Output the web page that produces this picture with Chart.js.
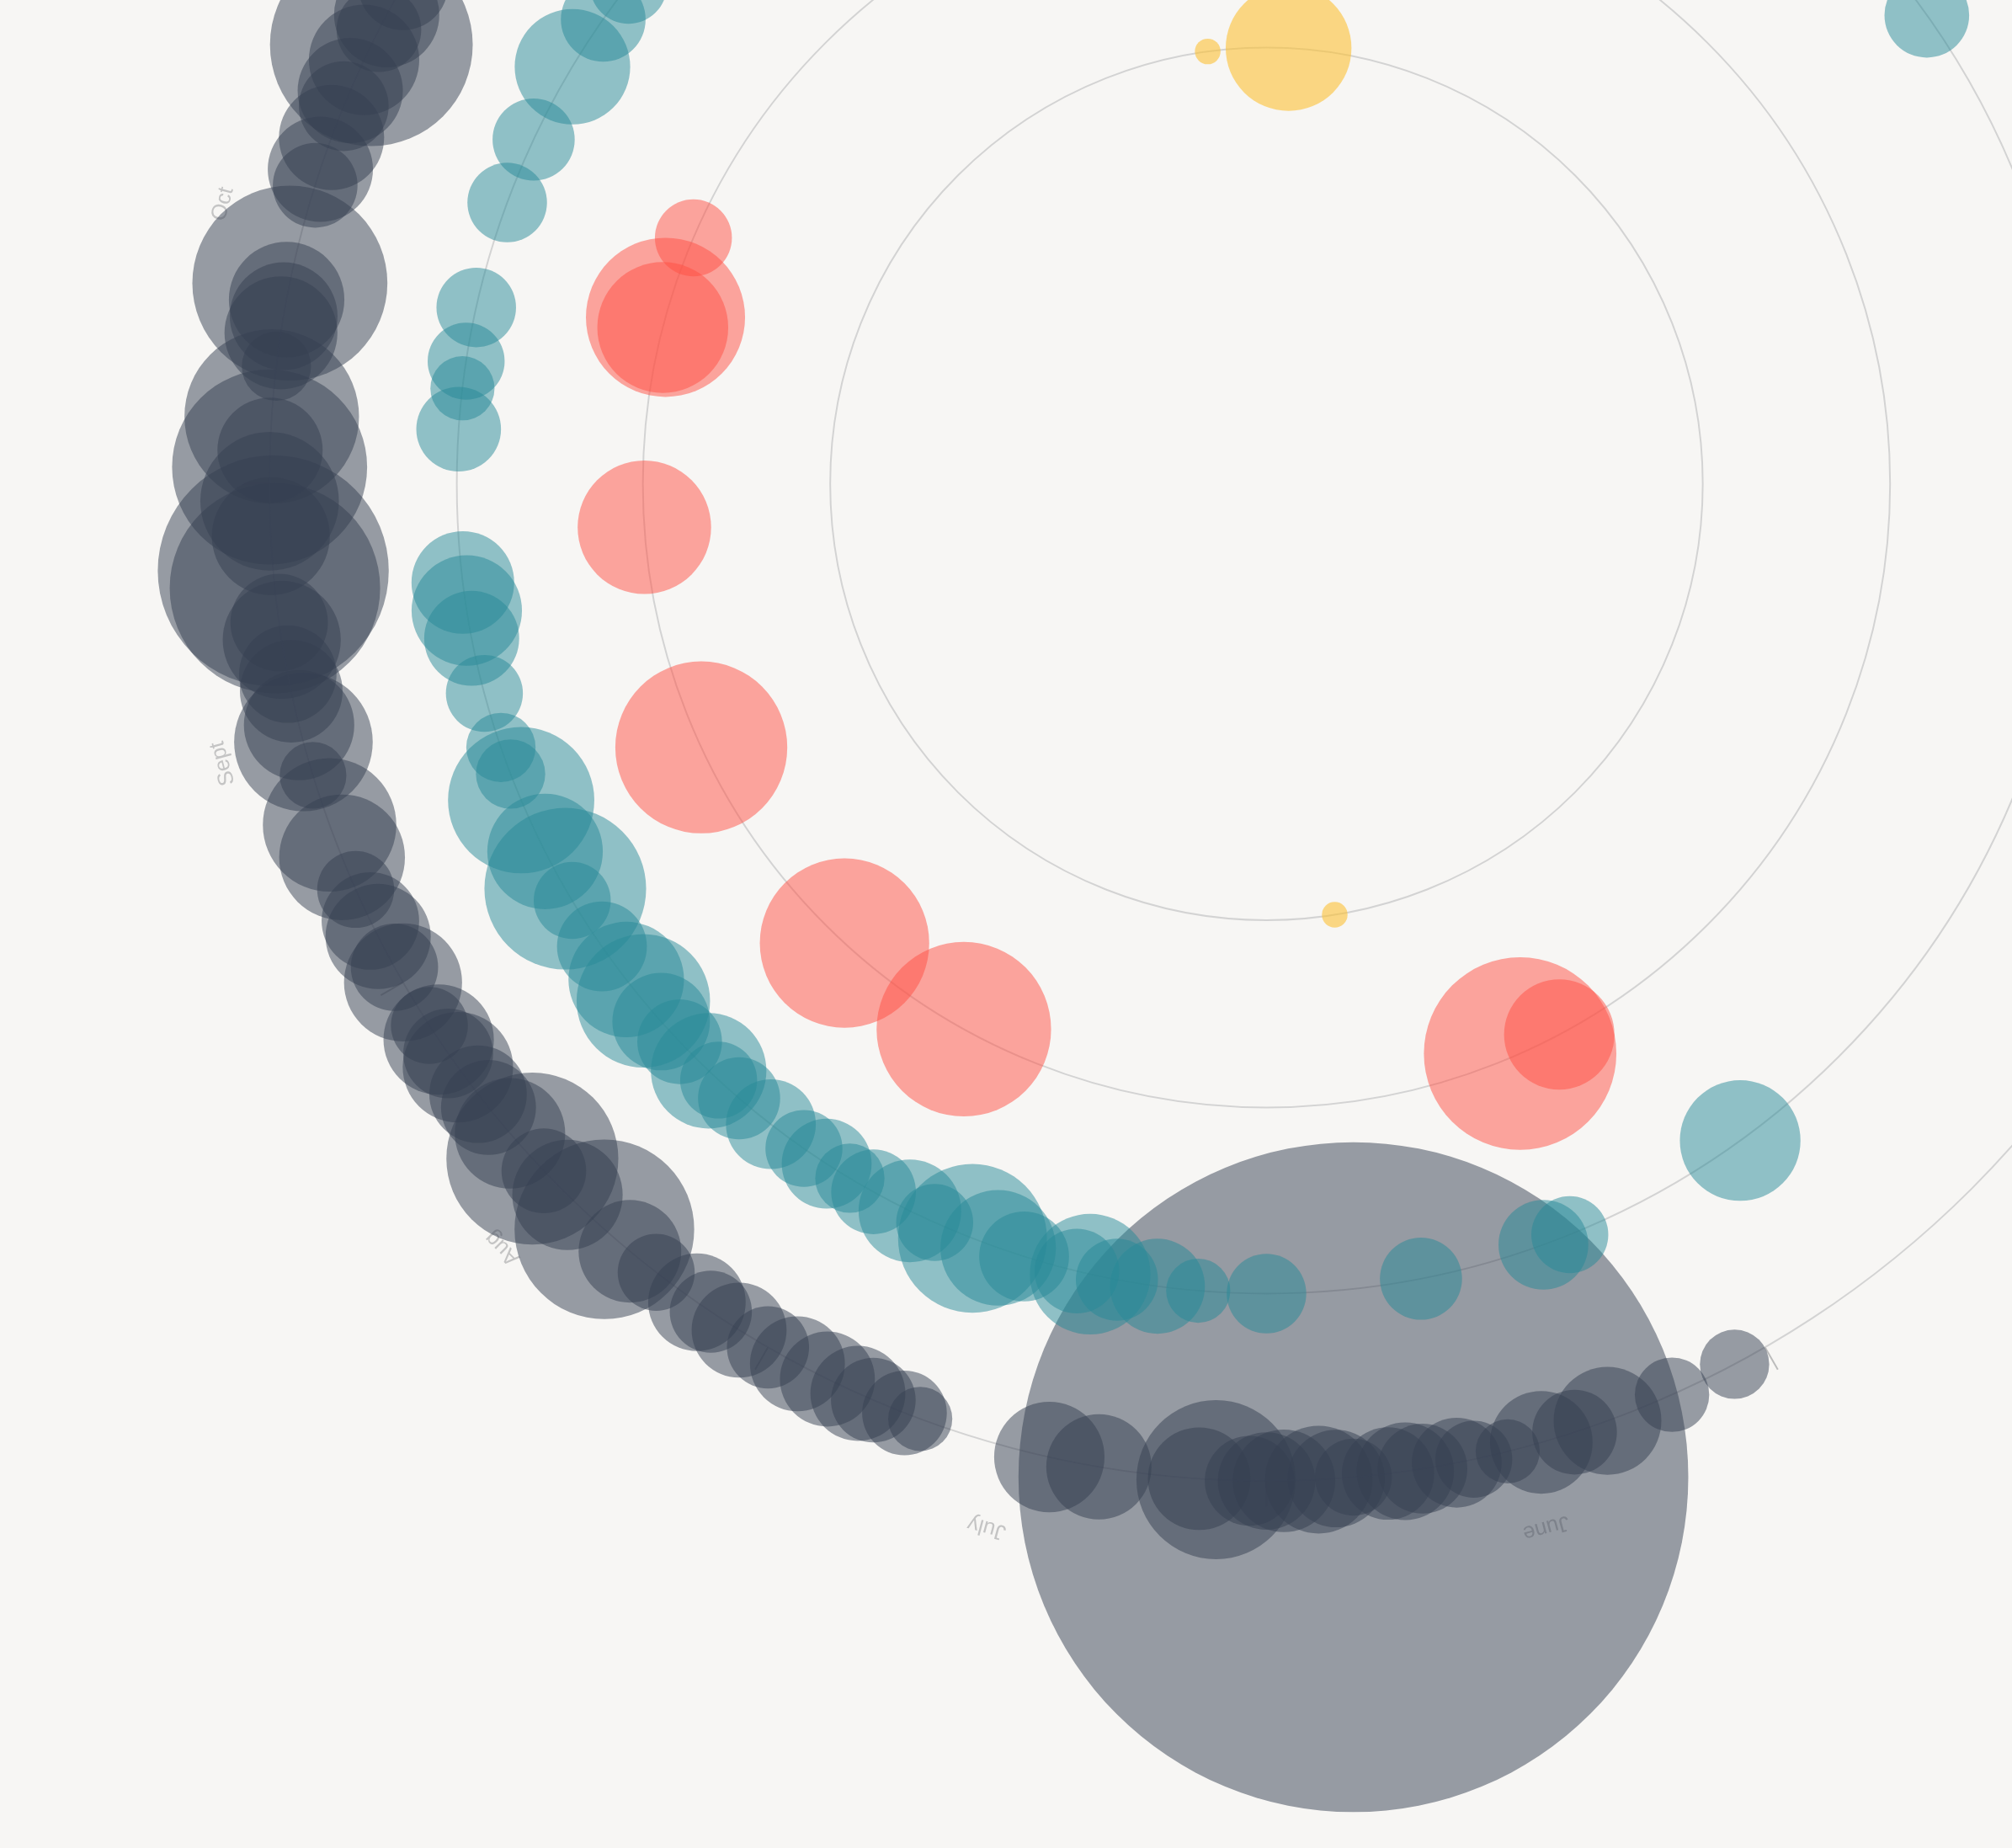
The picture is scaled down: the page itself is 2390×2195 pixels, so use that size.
<!DOCTYPE html>
<html>
<head>
<meta charset="utf-8">
<title>Year in circles</title>
<script src="https://cdn.jsdelivr.net/npm/chart.js@4.4.0/dist/chart.umd.min.js"></script>
<style>
  html, body { margin: 0; padding: 0; background: #f7f6f4; }
  #wrap { width: 2390px; height: 2195px; position: relative; }
</style>
</head>
<body>
<div id="wrap"><canvas id="chart"></canvas></div>
<script>
const months = ['Jan', 'Feb', 'Mar', 'Apr', 'May', 'June', 'July', 'Aug', 'Sept', 'Oct', 'Nov', 'Dec'];
const daysInMonth = [31, 28, 31, 30, 31, 30, 31, 31, 30, 31, 30, 31];

// outer ring
const greyDates = ['06-03', '06-07', '06-11', '06-13', '06-15', '06-17', '06-19', '06-20', '06-22', '06-23',
  '06-24', '06-26', '06-26', '06-27', '06-28', '06-30', '07-01', '07-02', '07-04', '07-05',
  '07-11', '07-14', '07-22', '07-23', '07-25', '07-26', '07-28', '07-30', '08-01', '08-03',
  '08-05', '08-06', '08-09', '08-11', '08-13', '08-16', '08-18', '08-19', '08-21', '08-23',
  '08-24', '08-26', '08-27', '08-28', '08-29', '09-01', '09-02', '09-04', '09-05', '09-07',
  '09-09', '09-11', '09-14', '09-16', '09-17', '09-19', '09-20', '09-22', '09-23', '09-25',
  '09-26', '09-28', '09-30', '10-02', '10-03', '10-05', '10-08', '10-10', '10-11', '10-12',
  '10-13', '10-19', '10-20', '10-22', '10-24', '10-25', '10-27', '10-28', '10-29', '10-30',
  '11-01'];
const greySizes = [27, 29, 42, 33, 40, 25, 30, 35, 35, 38,
  36, 30, 261, 38, 42, 40, 38, 35, 62, 40,
  41, 43, 25, 33, 33, 37, 37, 37, 32, 37,
  32, 38, 30, 40, 70, 43, 33, 67, 43, 37,
  38, 43, 35, 43, 30, 46, 34, 41, 38, 30,
  49, 52, 26, 54, 43, 40, 38, 46, 38, 82,
  90, 46, 54, 76, 41, 68, 27, 44, 42, 45,
  76, 33, 41, 41, 35, 41, 43, 79, 33, 41,
  35];

// third ring
const tealDates = ['02-24', '05-26', '06-09', '06-11', '06-20', '07-01', '07-06', '07-09', '07-12', '07-14',
  '07-15', '07-19', '07-21', '07-23', '07-26', '07-28', '07-31', '08-02', '08-04', '08-06',
  '08-09', '08-12', '08-14', '08-15', '08-18', '08-20', '08-22', '08-24', '08-27', '08-31',
  '09-01', '09-04', '09-08', '09-10', '09-12', '09-16', '09-20', '09-22', '09-24', '10-05',
  '10-08', '10-10', '10-14', '10-22', '10-27', '11-02', '11-06', '11-09'];
const tealSizes = [33, 47, 30, 35, 32, 31, 25, 37, 32, 47,
  33, 35, 45, 58, 30, 40, 33, 27, 35, 30,
  35, 32, 30, 45, 33, 38, 52, 45, 35, 30,
  63, 45, 57, 27, 27, 30, 37, 43, 40, 33,
  25, 30, 31, 31, 32, 45, 33, 30];

// second ring
const coralDates = ['06-03', '06-07', '07-31', '08-14', '09-06', '09-27', '10-16', '10-17', '10-25'];
const coralSizes = [43, 75, 68, 66, 67, 52, 51, 62, 30];

// inner ring
const goldDates = ['06-22', '12-24', '01-04'];
const goldSizes = [10, 10, 49];

// ring radii and label ring, in view units (the centre is 0,0)
const rings = [340, 486, 631, 777];
const labelRing = 842;

// the part of the circle that is in view
const view = { left: -987, right: 581, top: -377, bottom: 1063 };
const unitPx = document.getElementById('wrap').clientWidth / (view.right - view.left);

function angleOf(date) {
  const [m, d] = date.split('-').map(Number);
  return (-90 + 30 * (m - 1) + 30 * (d - 1) / daysInMonth[m - 1]) * Math.PI / 180;
}

function toPoints(dates, sizes, ring) {
  return dates.map((date, i) => {
    const a = angleOf(date);
    return { x: rings[ring] * Math.cos(a), y: rings[ring] * Math.sin(a), r: sizes[i] * unitPx };
  });
}

// rings, month ticks and month names under the bubbles
const radialGrid = {
  id: 'radialGrid',
  beforeDatasetsDraw(chart) {
    const { ctx, scales: { x, y } } = chart;
    const cx = x.getPixelForValue(0);
    const cy = y.getPixelForValue(0);
    const u = x.getPixelForValue(1) - cx;
    ctx.save();
    ctx.strokeStyle = '#d3d3d3';
    ctx.lineWidth = 1.3 * u;
    rings.forEach((r) => {
      ctx.beginPath();
      ctx.arc(cx, cy, r * u, 0, Math.PI * 2);
      ctx.stroke();
    });

    const outer = rings[rings.length - 1];
    ctx.strokeStyle = '#bcbcbc';
    for (let m = 0; m < 12; m++) {
      const a = (-90 + 30 * m) * Math.PI / 180;
      ctx.beginPath();
      ctx.moveTo(cx + outer * u * Math.cos(a), cy + outer * u * Math.sin(a));
      ctx.lineTo(cx + (outer + 20) * u * Math.cos(a), cy + (outer + 20) * u * Math.sin(a));
      ctx.stroke();
    }

    ctx.fillStyle = '#c4c4c4';
    ctx.font = (17 * u) + 'px "Liberation Sans", Arial, sans-serif';
    ctx.textAlign = 'center';
    ctx.textBaseline = 'middle';
    months.forEach((name, m) => {
      const a = (-90 + 30 * m + 15) * Math.PI / 180;
      ctx.save();
      ctx.translate(cx + labelRing * u * Math.cos(a), cy + labelRing * u * Math.sin(a));
      ctx.rotate(a + Math.PI / 2);
      ctx.fillText(name, 0, 0);
      ctx.restore();
    });
    ctx.restore();
  }
};

new Chart(document.getElementById('chart'), {
  type: 'bubble',
  data: {
    datasets: [
      { label: 'gold', data: toPoints(goldDates, goldSizes, 0), backgroundColor: 'rgba(252, 194, 54, 0.6)', borderWidth: 0 },
      { label: 'coral', data: toPoints(coralDates, coralSizes, 1), backgroundColor: 'rgba(255, 80, 68, 0.5)', borderWidth: 0 },
      { label: 'teal', data: toPoints(tealDates, tealSizes, 2), backgroundColor: 'rgba(39, 138, 152, 0.5)', borderWidth: 0 },
      { label: 'grey', data: toPoints(greyDates, greySizes, 3), backgroundColor: 'rgba(53, 64, 82, 0.5)', borderWidth: 0 },
    ],
  },
  options: {
    responsive: true,
    maintainAspectRatio: false,
    animation: false,
    events: [],
    layout: { padding: 0, autoPadding: false },
    plugins: { legend: { display: false }, tooltip: { enabled: false } },
    scales: {
      x: { type: 'linear', display: false, min: view.left, max: view.right },
      y: { type: 'linear', display: false, reverse: true, min: view.top, max: view.bottom },
    },
  },
  plugins: [radialGrid],
});
</script>
</body>
</html>
